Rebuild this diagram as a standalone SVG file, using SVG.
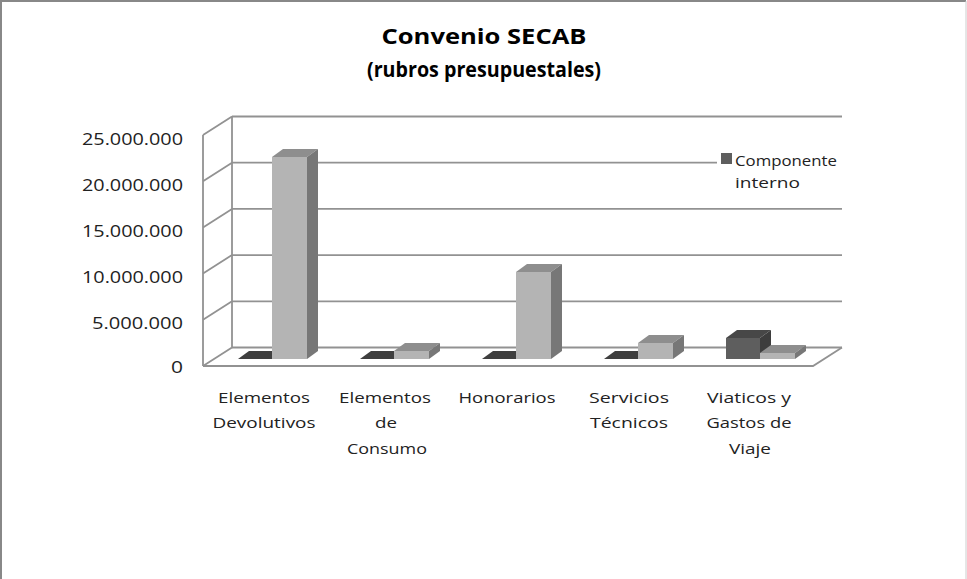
<svg xmlns="http://www.w3.org/2000/svg" width="967" height="579" viewBox="0 0 967 579">
<style>
.t{font-family:"Open Sans","Liberation Sans",sans-serif;fill:#222}
.ttl{font-family:"Open Sans","Liberation Sans",sans-serif;font-weight:bold;font-size:22px;fill:#000;text-anchor:middle}
.ax{font-size:16px;text-anchor:end}
.cat{font-size:15px;text-anchor:middle}
.lg{font-size:15px}
.grid{stroke:#929292;stroke-width:1.8;fill:none}
.lf{fill:#b4b4b4}.lt{fill:#8e8e8e}.ls{fill:#777}
.df{fill:#5e5e5e}.dt{fill:#474747}.ds{fill:#3d3d3d}
.z{fill:#3f3f3f}
</style>
<rect x="0" y="0" width="967" height="579" fill="#fff"/>
<path d="M1,579 V1 H966" fill="none" stroke="#888" stroke-width="2"/>
<path d="M966,1 V579" fill="none" stroke="#ccc" stroke-width="1"/>

<g id="title">
<text class="ttl" x="484" y="44" textLength="205" lengthAdjust="spacingAndGlyphs">Convenio SECAB</text>
<text class="ttl" x="484" y="77" textLength="234" lengthAdjust="spacingAndGlyphs">(rubros presupuestales)</text>
</g>

<g id="walls" class="grid">
<path d="M232,116.5 H842 M232,162.7 H842 M232,208.9 H842 M232,255.1 H842 M232,301.3 H842 M232,347.5 H842"/>
<path d="M203,135 L232,116.5 M203,181.2 L232,162.7 M203,227.4 L232,208.9 M203,273.6 L232,255.1 M203,319.8 L232,301.3 M203,366 L232,347.5"/>
<path d="M232,116.5 V347.5 M203,135 V366"/>
<path d="M203,366 H813 L842,347.5"/>
</g>

<g id="yaxis" class="t ax">
<text x="183" y="145" textLength="101" lengthAdjust="spacingAndGlyphs">25.000.000</text>
<text x="183" y="191" textLength="101" lengthAdjust="spacingAndGlyphs">20.000.000</text>
<text x="183" y="237" textLength="101" lengthAdjust="spacingAndGlyphs">15.000.000</text>
<text x="183" y="283" textLength="101" lengthAdjust="spacingAndGlyphs">10.000.000</text>
<text x="183" y="329" textLength="91" lengthAdjust="spacingAndGlyphs">5.000.000</text>
<text x="183" y="373" textLength="12" lengthAdjust="spacingAndGlyphs">0</text>
</g>

<g id="cat1">
<polygon class="z" points="238,359 272,359 283,351 249,351"/>
<rect class="lf" x="272" y="157" width="35" height="202"/>
<polygon class="lt" points="272,157 307,157 318,149 283,149"/>
<polygon class="ls" points="307,157 318,149 318,351 307,359"/>
</g>
<g id="cat2">
<polygon class="z" points="360,359 394,359 405,351 371,351"/>
<rect class="lf" x="394" y="351" width="35" height="8"/>
<polygon class="lt" points="394,351 429,351 440,343 405,343"/>
<polygon class="ls" points="429,351 440,343 440,351 429,359"/>
</g>
<g id="cat3">
<polygon class="z" points="482,359 516,359 527,351 493,351"/>
<rect class="lf" x="516" y="272" width="35" height="87"/>
<polygon class="lt" points="516,272 551,272 562,264 527,264"/>
<polygon class="ls" points="551,272 562,264 562,351 551,359"/>
</g>
<g id="cat4">
<polygon class="z" points="604,359 638,359 649,351 615,351"/>
<rect class="lf" x="638" y="343" width="35" height="16"/>
<polygon class="lt" points="638,343 673,343 684,335 649,335"/>
<polygon class="ls" points="673,343 684,335 684,351 673,359"/>
</g>
<g id="cat5">
<rect class="df" x="726" y="338" width="34" height="21"/>
<polygon class="dt" points="726,338 760,338 771,330 737,330"/>
<polygon class="ds" points="760,338 771,330 771,351 760,359"/>
<rect class="lf" x="760" y="353" width="35" height="6"/>
<polygon class="lt" points="760,353 795,353 806,345 771,345"/>
<polygon class="ls" points="795,353 806,345 806,351 795,359"/>
</g>

<g id="xlabels" class="t cat">
<text x="264" y="403" textLength="92" lengthAdjust="spacingAndGlyphs">Elementos</text>
<text x="264" y="428" textLength="103" lengthAdjust="spacingAndGlyphs">Devolutivos</text>
<text x="385" y="403" textLength="92" lengthAdjust="spacingAndGlyphs">Elementos</text>
<text x="386" y="428" textLength="22" lengthAdjust="spacingAndGlyphs">de</text>
<text x="387" y="454" textLength="80" lengthAdjust="spacingAndGlyphs">Consumo</text>
<text x="507" y="403" textLength="97" lengthAdjust="spacingAndGlyphs">Honorarios</text>
<text x="629" y="403" textLength="80" lengthAdjust="spacingAndGlyphs">Servicios</text>
<text x="629" y="428" textLength="78" lengthAdjust="spacingAndGlyphs">Técnicos</text>
<text x="749" y="403" textLength="84" lengthAdjust="spacingAndGlyphs">Viaticos y</text>
<text x="749" y="428" textLength="85" lengthAdjust="spacingAndGlyphs">Gastos de</text>
<text x="750" y="454" textLength="42" lengthAdjust="spacingAndGlyphs">Viaje</text>
</g>

<g id="legend">
<rect x="717" y="150" width="130" height="44" fill="#fff"/>
<rect x="721" y="153" width="11" height="11" fill="#5e5e5e"/>
<text class="t lg" x="735" y="166" textLength="102" lengthAdjust="spacingAndGlyphs">Componente</text>
<text class="t lg" x="735" y="188" textLength="65" lengthAdjust="spacingAndGlyphs">interno</text>
</g>
</svg>
